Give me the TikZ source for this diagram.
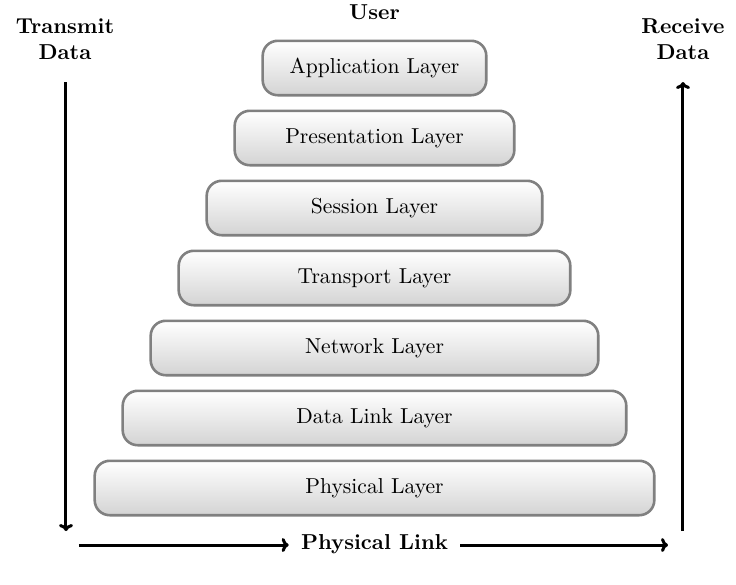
\documentclass[tikz,border=0pt]{standalone}
\usetikzlibrary{arrows.meta}
\begin{document}
\begin{tikzpicture}[x=0.5pt,y=-0.5pt,
  every node/.style={font=\fontsize{10.8}{13}\selectfont},
  layer/.style={draw=black!50,line width=1.3pt,rounded corners=7.5pt,
    top color=white,bottom color=black!17,minimum height=27.2pt,inner sep=0pt},
  lbl/.style={font=\fontsize{10.8}{13}\selectfont\bfseries,align=center,inner sep=0pt},
  arr/.style={line width=1.5pt,-{To[length=3.5pt,width=7pt]}}]
\useasboundingbox (0,0) rectangle (736,585);
\node[layer,minimum width=111.8pt] (app) at (374.5,68) {Application Layer};
\node[layer,minimum width=139.8pt] (pres) at (374.5,138) {Presentation Layer};
\node[layer,minimum width=167.8pt] (sess) at (374.5,208) {Session Layer};
\node[layer,minimum width=195.8pt] (trans) at (374.5,278) {Transport Layer};
\node[layer,minimum width=223.8pt] (net) at (374.5,348) {Network Layer};
\node[layer,minimum width=251.8pt] (dl) at (374.5,418) {Data Link Layer};
\node[layer,minimum width=279.8pt] (phys) at (374.5,488) {Physical Layer};
\node[lbl] (user) at (374.5,12) {User};
\node[lbl] (tx) at (65,39) {Transmit\\Data};
\node[lbl] (rx) at (683,39) {Receive\\Data};
\node[lbl] (link) at (374.5,544) {Physical Link};
\coordinate (txa) at (66,82);
\coordinate (txb) at (66,531);
\coordinate (rxa) at (683,531);
\coordinate (rxb) at (683,82);
\coordinate (la) at (79,545);
\coordinate (lb) at (668,545);
\draw[arr] (txa) -- (txb);
\draw[arr] (rxa) -- (rxb);
\draw[arr] (la) -- ([xshift=-6pt]link.west |- la);
\draw[arr] ([xshift=6pt]link.east |- lb) -- (lb);
\end{tikzpicture}
\end{document}
